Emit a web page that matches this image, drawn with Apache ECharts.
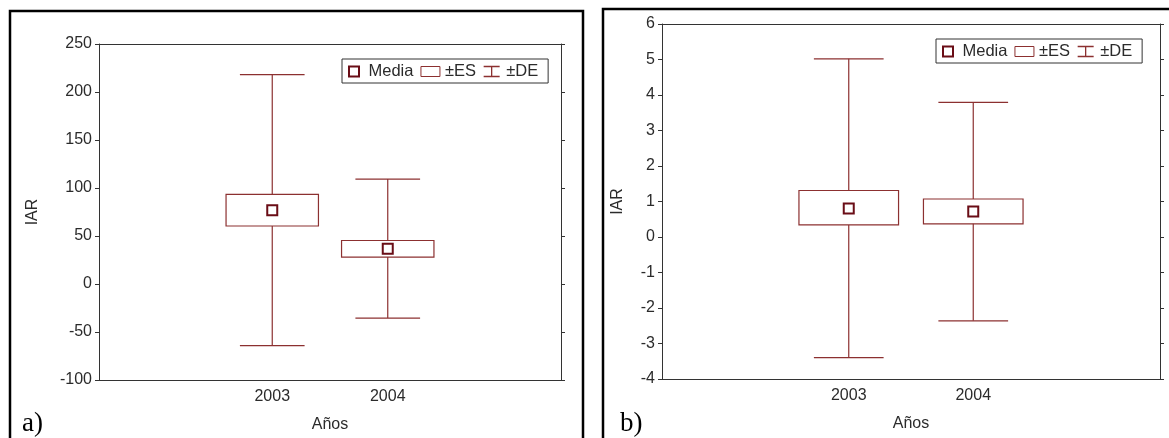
<!DOCTYPE html>
<html>
<head>
<meta charset="utf-8">
<script src="https://cdn.jsdelivr.net/npm/echarts@6/dist/echarts.min.js"></script>
<style>
html,body{margin:0;padding:0;background:#fff;}
#c{width:1169px;height:438px;}
</style>
</head>
<body>
<div id="c"></div>
<script>
// ---- data ----
const categories = ['', '2003', '2004', ''];
const years = ['2003', '2004'];
const legendNames = ['Media', '±ES', '±DE'];
const axisNameX = 'Años';
const axisNameY = 'IAR';

// panel a)
const aMedia  = [76.9, 36.6];
const aEsHigh = [93.4, 45.3];
const aEsLow  = [60.4, 28.0];
const aDeHigh = [218.0, 109.3];
const aDeLow  = [-64.2, -35.5];
const aYMin = -100, aYMax = 250, aYStep = 50;

// panel b)
const bMedia  = [0.80, 0.72];
const bEsHigh = [1.31, 1.07];
const bEsLow  = [0.34, 0.37];
const bDeHigh = [5.02, 3.79];
const bDeLow  = [-3.40, -2.36];
const bYMin = -4, bYMax = 6, bYStep = 1;

// ---- styles ----
const LINE = '#8c3030';
const MARK = '#6a0d16';
const TXT = '#2b2b2b';
const FONT = '"Liberation Sans", Arial, sans-serif';

const chart = echarts.init(document.getElementById('c'), null, {renderer: 'canvas'});

function pairs(a, b) { return years.map((y, i) => [y, a[i], b[i]]); }

function whiskerItem(params, api) {
  const x = api.value(0);
  const lo = api.coord([x, api.value(1)]);
  const hi = api.coord([x, api.value(2)]);
  const bw = api.size([1, 0])[0];
  const c = bw * 0.56 / 2;
  const st = {stroke: LINE, lineWidth: 1.2, fill: null};
  return {type: 'group', children: [
    {type: 'line', shape: {x1: hi[0], y1: hi[1], x2: lo[0], y2: lo[1]}, style: st},
    {type: 'line', shape: {x1: hi[0] - c, y1: hi[1], x2: hi[0] + c, y2: hi[1]}, style: st},
    {type: 'line', shape: {x1: lo[0] - c, y1: lo[1], x2: lo[0] + c, y2: lo[1]}, style: st}
  ]};
}
function boxItem(params, api) {
  const x = api.value(0);
  const lo = api.coord([x, api.value(1)]);
  const hi = api.coord([x, api.value(2)]);
  const bw = api.size([1, 0])[0] * 0.8;
  return {type: 'rect',
    shape: {x: hi[0] - bw / 2, y: hi[1], width: bw, height: lo[1] - hi[1]},
    style: {fill: '#fff', stroke: LINE, lineWidth: 1.2}};
}

function axesFor(idx, min, max, step) {
  const common = {gridIndex: idx};
  const xs = [
    Object.assign({}, common, {type: 'category', data: categories, position: 'bottom',
      axisLine: {onZero: false, lineStyle: {color: '#333', width: 1}},
      axisTick: {alignWithLabel: true, inside: true, length: 4, lineStyle: {color: '#333'}},
      axisLabel: {color: TXT, fontSize: 16, fontFamily: FONT, margin: 9},
      name: axisNameX, nameLocation: 'middle', nameGap: 37,
      nameTextStyle: {color: TXT, fontSize: 16, fontFamily: FONT},
      splitLine: {show: false}}),
    Object.assign({}, common, {type: 'category', data: categories, position: 'top',
      axisLine: {onZero: false, lineStyle: {color: '#333', width: 1}},
      axisTick: {alignWithLabel: true, inside: true, length: 4, lineStyle: {color: '#333'}},
      axisLabel: {show: false}, splitLine: {show: false}})
  ];
  const ys = [
    Object.assign({}, common, {type: 'value', min: min, max: max, interval: step, position: 'left',
      axisLine: {show: true, onZero: false, lineStyle: {color: '#333', width: 1}},
      axisTick: {show: true, inside: false, length: 4, lineStyle: {color: '#333'}},
      axisLabel: {color: TXT, fontSize: 16, fontFamily: FONT, margin: 7},
      name: axisNameY, nameLocation: 'middle', nameRotate: 90, nameGap: idx === 0 ? 58 : 36,
      nameTextStyle: {color: TXT, fontSize: 16, fontFamily: FONT},
      splitLine: {show: false}}),
    Object.assign({}, common, {type: 'value', min: min, max: max, interval: step, position: 'right',
      axisLine: {show: true, onZero: false, lineStyle: {color: '#333', width: 1}},
      axisTick: {show: true, inside: false, length: 4, lineStyle: {color: '#333'}},
      axisLabel: {show: false}, splitLine: {show: false}})
  ];
  return {xs, ys};
}

const A = axesFor(0, aYMin, aYMax, aYStep);
const B = axesFor(1, bYMin, bYMax, bYStep);

function seriesFor(xi, yi, media, esLo, esHi, deLo, deHi) {
  return [
    {name: '±DE', type: 'custom', xAxisIndex: xi, yAxisIndex: yi, renderItem: whiskerItem,
      encode: {x: 0, y: [1, 2]}, data: pairs(deLo, deHi), itemStyle: {color: LINE}, silent: true},
    {name: '±ES', type: 'custom', xAxisIndex: xi, yAxisIndex: yi, renderItem: boxItem,
      encode: {x: 0, y: [1, 2]}, data: pairs(esLo, esHi), itemStyle: {color: LINE}, silent: true},
    {name: 'Media', type: 'scatter', xAxisIndex: xi, yAxisIndex: yi, symbol: 'rect', symbolSize: 10,
      data: years.map((y, i) => [y, media[i]]),
      itemStyle: {color: '#fff', borderColor: MARK, borderWidth: 2, opacity: 1}, silent: true}
  ];
}

function legendFor(left, top) {
  return {
    left: left, top: top, orient: 'horizontal',
    backgroundColor: '#fff', borderColor: '#333', borderWidth: 1, borderRadius: 0,
    padding: [4, 10, 3, 6], itemGap: 7, itemWidth: 19, itemHeight: 10,
    selectedMode: false,
    textStyle: {color: TXT, fontSize: 16.5, fontFamily: FONT},
    data: [
      {name: legendNames[0], icon: 'path://M0,0H10V10H0Z',
        itemStyle: {color: '#fff', borderColor: MARK, borderWidth: 2}},
      {name: legendNames[1], icon: 'rect',
        itemStyle: {color: '#fff', borderColor: LINE, borderWidth: 1}},
      {name: legendNames[2], icon: 'path://M0,0H16M8,0V10M0,10H16',
        itemStyle: {color: 'rgba(0,0,0,0)', borderColor: LINE, borderWidth: 1.3}}
    ]
  };
}

const option = {
  animation: false,
  backgroundColor: '#fff',
  grid: [
    {left: 99, top: 44, width: 462, height: 339, containLabel: false},
    {left: 662, top: 24, width: 498, height: 355, containLabel: false}
  ],
  xAxis: A.xs.concat(B.xs),
  yAxis: A.ys.concat(B.ys),
  legend: [legendFor(342, 59), legendFor(936, 39)],
  series: [].concat(
    seriesFor(0, 0, aMedia, aEsLow, aEsHigh, aDeLow, aDeHigh),
    seriesFor(2, 2, bMedia, bEsLow, bEsHigh, bDeLow, bDeHigh)
  ),
  graphic: [
    {type: 'rect', shape: {x: 10, y: 11, width: 573, height: 460}, style: {fill: null, stroke: '#000', lineWidth: 2.5}, silent: true},
    {type: 'rect', shape: {x: 603, y: 9, width: 590, height: 460}, style: {fill: null, stroke: '#000', lineWidth: 2.5}, silent: true},
    {type: 'text', left: 22, top: 410, style: {text: 'a)', fill: '#000', font: '27px "Liberation Serif", "Times New Roman", serif'}},
    {type: 'text', left: 620, top: 410, style: {text: 'b)', fill: '#000', font: '27px "Liberation Serif", "Times New Roman", serif'}}
  ]
};
chart.setOption(option);
</script>
</body>
</html>
